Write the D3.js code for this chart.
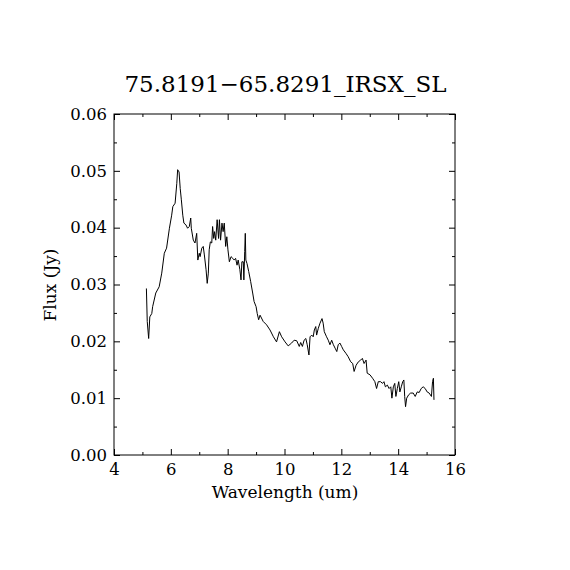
<!DOCTYPE html>
<html><head><meta charset="utf-8">
<script src="https://cdn.jsdelivr.net/npm/d3@7"></script>
<style>body{margin:0;background:#fff}</style>
</head><body>
<script>
const title = "75.8191\u221265.8291_IRSX_SL";
const xLabel = "Wavelength (um)";
const yLabel = "Flux (Jy)";
const xTicks = [4, 6, 8, 10, 12, 14, 16];
const yTicks = [0, 0.01, 0.02, 0.03, 0.04, 0.05, 0.06];
const wavelength = [5.14,5.17,5.22,5.26,5.33,5.36,5.47,5.59,5.68,5.77,5.85,5.95,6.03,6.07,6.15,6.21,6.24,6.29,6.33,6.37,6.42,6.46,6.53,6.59,6.65,6.70,6.72,6.79,6.85,6.91,6.95,7.00,7.03,7.09,7.14,7.18,7.24,7.28,7.32,7.35,7.39,7.44,7.47,7.51,7.54,7.58,7.63,7.68,7.71,7.75,7.80,7.84,7.88,7.93,7.97,8.01,8.06,8.12,8.18,8.23,8.28,8.33,8.37,8.43,8.47,8.50,8.55,8.57,8.60,8.62,8.64,8.68,8.74,8.81,8.88,8.93,9.00,9.04,9.09,9.14,9.25,9.37,9.49,9.61,9.72,9.82,9.90,10.02,10.13,10.25,10.34,10.43,10.52,10.57,10.63,10.69,10.75,10.80,10.86,10.90,10.96,11.01,11.05,11.10,11.13,11.19,11.25,11.32,11.36,11.40,11.48,11.54,11.60,11.66,11.72,11.78,11.84,11.89,11.95,12.01,12.07,12.16,12.24,12.33,12.40,12.45,12.52,12.60,12.68,12.74,12.80,12.87,12.91,13.01,13.10,13.18,13.24,13.30,13.38,13.45,13.50,13.55,13.62,13.68,13.74,13.78,13.83,13.88,13.92,13.97,14.02,14.06,14.11,14.16,14.20,14.23,14.26,14.30,14.37,14.44,14.53,14.60,14.67,14.74,14.81,14.88,14.95,15.02,15.09,15.17,15.21,15.24,15.26];
const flux = [0.0293,0.0235,0.0205,0.0243,0.0249,0.0261,0.0285,0.0296,0.0320,0.0355,0.0364,0.0399,0.0422,0.0437,0.0443,0.0478,0.0502,0.0498,0.0469,0.0449,0.0422,0.0408,0.0405,0.0399,0.0402,0.0417,0.0399,0.0378,0.0373,0.0390,0.0343,0.0355,0.0349,0.0364,0.0367,0.0352,0.0326,0.0302,0.0320,0.0361,0.0375,0.0373,0.0402,0.0381,0.0393,0.0378,0.0414,0.0381,0.0414,0.0378,0.0408,0.0393,0.0408,0.0367,0.0384,0.0361,0.0340,0.0349,0.0346,0.0343,0.0346,0.0334,0.0343,0.0326,0.0308,0.0340,0.0340,0.0308,0.0358,0.0390,0.0343,0.0337,0.0323,0.0305,0.0285,0.0270,0.0261,0.0249,0.0238,0.0246,0.0235,0.0229,0.0220,0.0208,0.0199,0.0217,0.0208,0.0199,0.0192,0.0197,0.0202,0.0201,0.0191,0.0198,0.0191,0.0202,0.0205,0.0194,0.0176,0.0208,0.0211,0.0208,0.0220,0.0226,0.0211,0.0223,0.0232,0.0240,0.0232,0.0217,0.0208,0.0202,0.0194,0.0202,0.0194,0.0188,0.0182,0.0194,0.0197,0.0191,0.0185,0.0179,0.0173,0.0164,0.0161,0.0147,0.0158,0.0164,0.0167,0.0170,0.0161,0.0167,0.0144,0.0141,0.0135,0.0129,0.0117,0.0129,0.0129,0.0126,0.0129,0.0120,0.0123,0.0117,0.0120,0.0100,0.0120,0.0126,0.0103,0.0117,0.0129,0.0111,0.0120,0.0129,0.0132,0.0103,0.0085,0.0100,0.0106,0.0109,0.0109,0.0103,0.0111,0.0110,0.0117,0.0120,0.0117,0.0111,0.0109,0.0103,0.0129,0.0135,0.0097];

const W = 570, H = 570;
const m = {left: 114, right: 115, top: 114, bottom: 115};
const svg = d3.select("body").append("svg").attr("width", W).attr("height", H);
const x = d3.scaleLinear().domain([4, 16]).range([m.left, W - m.right]);
const y = d3.scaleLinear().domain([0, 0.06]).range([H - m.bottom, m.top]);
const font = "'DejaVu Serif', serif";

const xMinor = d3.range(5, 16, 2);
const yMinor = d3.range(0.005, 0.06, 0.01);

function addAxis(axisFn, scale, tvals, len, tx, ty, fmt) {
  const g = svg.append("g").attr("transform", `translate(${tx},${ty})`)
    .call(axisFn(scale).tickValues(tvals).tickSizeInner(len).tickSizeOuter(0).tickFormat(fmt));
  g.select(".domain").remove();
  g.selectAll("line").attr("stroke", "#000").attr("stroke-width", 1);
  g.selectAll("text").attr("font-family", font).attr("font-size", 16.5).attr("fill", "#000");
  return g;
}
const none = () => "";
// bottom
const gb = addAxis(d3.axisTop, x, xTicks, 6, 0, y(0), d3.format("d"));
gb.selectAll("text").attr("y", 0).attr("dy", "1.2em");
addAxis(d3.axisTop, x, xMinor, 3, 0, y(0), none);
// top
addAxis(d3.axisBottom, x, xTicks, 6, 0, y(0.06), none);
addAxis(d3.axisBottom, x, xMinor, 3, 0, y(0.06), none);
// left
const gl = addAxis(d3.axisRight, y, yTicks, 6, x(4), 0, d3.format(".2f"));
gl.selectAll("text").attr("x", -7).attr("text-anchor", "end");
addAxis(d3.axisRight, y, yMinor, 3, x(4), 0, none);
// right
addAxis(d3.axisLeft, y, yTicks, 6, x(16), 0, none);
addAxis(d3.axisLeft, y, yMinor, 3, x(16), 0, none);

svg.append("rect").attr("x", x(4)).attr("y", y(0.06))
  .attr("width", x(16) - x(4)).attr("height", y(0) - y(0.06))
  .attr("fill", "none").attr("stroke", "#000").attr("stroke-width", 1);

const pts = wavelength.map((w, i) => [w, flux[i]]);
svg.append("path").datum(pts)
  .attr("fill", "none").attr("stroke", "#000").attr("stroke-width", 1)
  .attr("d", d3.line().x(d => x(d[0])).y(d => y(d[1])));

svg.append("text").attr("x", 285.5).attr("y", 92).attr("text-anchor", "middle")
  .attr("font-family", font).attr("font-size", 23).text(title);
svg.append("text").attr("x", 285).attr("y", 498).attr("text-anchor", "middle")
  .attr("font-family", font).attr("font-size", 17).text(xLabel);
svg.append("text").attr("transform", "translate(56,285) rotate(-90)").attr("text-anchor", "middle")
  .attr("font-family", font).attr("font-size", 17).text(yLabel);
</script>
</body></html>
